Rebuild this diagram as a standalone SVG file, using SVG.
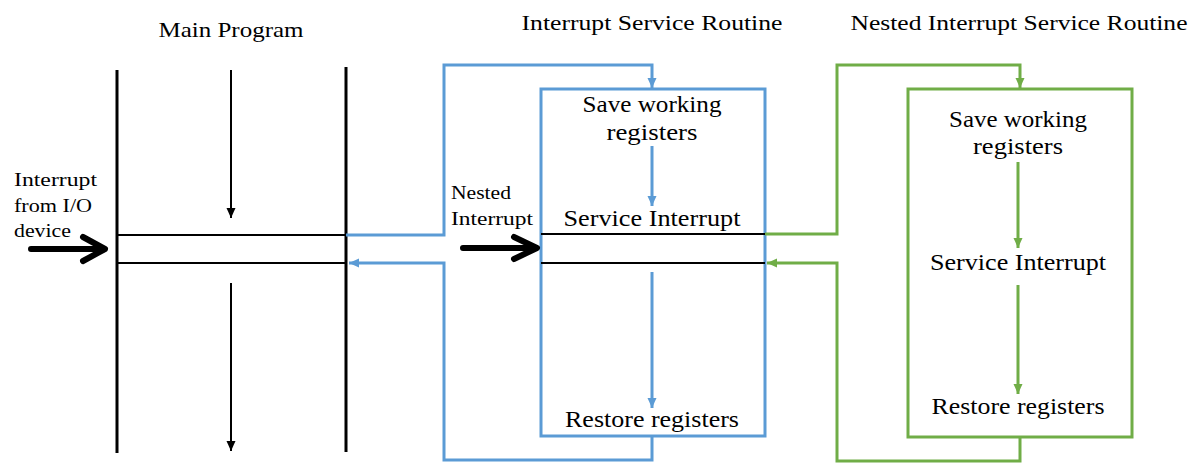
<svg xmlns="http://www.w3.org/2000/svg" width="1204" height="463" viewBox="0 0 1204 463">
<style>
text{font-family:"Liberation Serif","DejaVu Serif",serif;fill:#000}
.t{font-size:22px}
.b{font-size:23.5px}
.s{font-size:19px}
.bar{stroke:#000;stroke-width:3;fill:none}
.hl{stroke:#000;stroke-width:2;fill:none}
.blue{stroke:#5B9BD5;stroke-width:3;fill:none}
.green{stroke:#70AD47;stroke-width:3;fill:none}
.big{stroke:#000;stroke-width:6;fill:none;stroke-linecap:round;stroke-linejoin:round}
</style>
<defs>
<marker id="ak" markerUnits="userSpaceOnUse" markerWidth="10" markerHeight="10" refX="10" refY="5" orient="auto"><path d="M0,0.5 L10,5 L0,9.5 Z" fill="#000"/></marker>
<marker id="ab" markerUnits="userSpaceOnUse" markerWidth="10" markerHeight="10" refX="10" refY="5" orient="auto"><path d="M0,0.5 L10,5 L0,9.5 Z" fill="#5B9BD5"/></marker>
<marker id="ag" markerUnits="userSpaceOnUse" markerWidth="10" markerHeight="10" refX="10" refY="5" orient="auto"><path d="M0,0.5 L10,5 L0,9.5 Z" fill="#70AD47"/></marker>
</defs>
<rect width="1204" height="463" fill="#fff"/>

<g id="main-program">
<text class="t" x="231" y="37" text-anchor="middle" textLength="145" lengthAdjust="spacingAndGlyphs">Main Program</text>
<line class="bar" x1="117" y1="70" x2="117" y2="453"/>
<line class="bar" x1="346" y1="67" x2="346" y2="452"/>
<line class="hl" x1="117" y1="235" x2="346" y2="235"/>
<line class="hl" x1="117" y1="263" x2="346" y2="263"/>
<line stroke="#000" stroke-width="2" x1="231" y1="70" x2="231" y2="218" marker-end="url(#ak)"/>
<line stroke="#000" stroke-width="2" x1="231" y1="283" x2="231" y2="451" marker-end="url(#ak)"/>
</g>

<g id="io-interrupt">
<text class="s" x="14" y="186" textLength="83" lengthAdjust="spacingAndGlyphs">Interrupt</text>
<text class="s" x="14" y="212" textLength="78" lengthAdjust="spacingAndGlyphs">from I/O</text>
<text class="s" x="14" y="237" textLength="57" lengthAdjust="spacingAndGlyphs">device</text>
<path class="big" d="M31,249 L103,249 M83,237 L105,249 L83,261"/>
</g>

<g id="isr">
<text class="t" x="652" y="30" text-anchor="middle" textLength="261" lengthAdjust="spacingAndGlyphs">Interrupt Service Routine</text>
<rect class="blue" x="541" y="89" width="224" height="347"/>
<text class="b" x="652" y="112" text-anchor="middle" textLength="139" lengthAdjust="spacingAndGlyphs">Save working</text>
<text class="b" x="652" y="140" text-anchor="middle" textLength="91" lengthAdjust="spacingAndGlyphs">registers</text>
<text class="b" x="652" y="226" text-anchor="middle" textLength="177" lengthAdjust="spacingAndGlyphs">Service Interrupt</text>
<text class="b" x="652" y="427" text-anchor="middle" textLength="174" lengthAdjust="spacingAndGlyphs">Restore registers</text>
<line class="hl" x1="541" y1="234" x2="765" y2="234"/>
<line class="hl" x1="541" y1="263" x2="765" y2="263"/>
</g>

<g id="nested-interrupt">
<text class="s" x="451" y="199" textLength="60" lengthAdjust="spacingAndGlyphs">Nested</text>
<text class="s" x="451" y="225" textLength="82" lengthAdjust="spacingAndGlyphs">Interrupt</text>
<path class="big" d="M463,248 L535,248 M514,237 L537,248 L514,259"/>
</g>

<g id="nested-isr">
<text class="t" x="1019" y="30" text-anchor="middle" textLength="337" lengthAdjust="spacingAndGlyphs">Nested Interrupt Service Routine</text>
<rect class="green" x="908" y="89" width="224" height="348"/>
<text class="b" x="1018" y="127" text-anchor="middle" textLength="138" lengthAdjust="spacingAndGlyphs">Save working</text>
<text class="b" x="1018" y="154" text-anchor="middle" textLength="90" lengthAdjust="spacingAndGlyphs">registers</text>
<text class="b" x="1018" y="270" text-anchor="middle" textLength="176" lengthAdjust="spacingAndGlyphs">Service Interrupt</text>
<text class="b" x="1018" y="414" text-anchor="middle" textLength="173" lengthAdjust="spacingAndGlyphs">Restore registers</text>
</g>

<g id="connectors">
<path class="blue" d="M346,235 H444 V65 H652 V88" marker-end="url(#ab)"/>
<path class="blue" d="M652,436 V460 H444 V263 H349" marker-end="url(#ab)"/>
<line class="blue" x1="652" y1="146" x2="652" y2="206" marker-end="url(#ab)"/>
<line class="blue" x1="652" y1="272" x2="652" y2="408" marker-end="url(#ab)"/>
<path class="green" d="M765,234 H837 V65 H1020 V88" marker-end="url(#ag)"/>
<path class="green" d="M1020,437 V461 H837 V263 H767" marker-end="url(#ag)"/>
<line class="green" x1="1018" y1="162" x2="1018" y2="248" marker-end="url(#ag)"/>
<line class="green" x1="1018" y1="285" x2="1018" y2="394" marker-end="url(#ag)"/>
</g>
</svg>
